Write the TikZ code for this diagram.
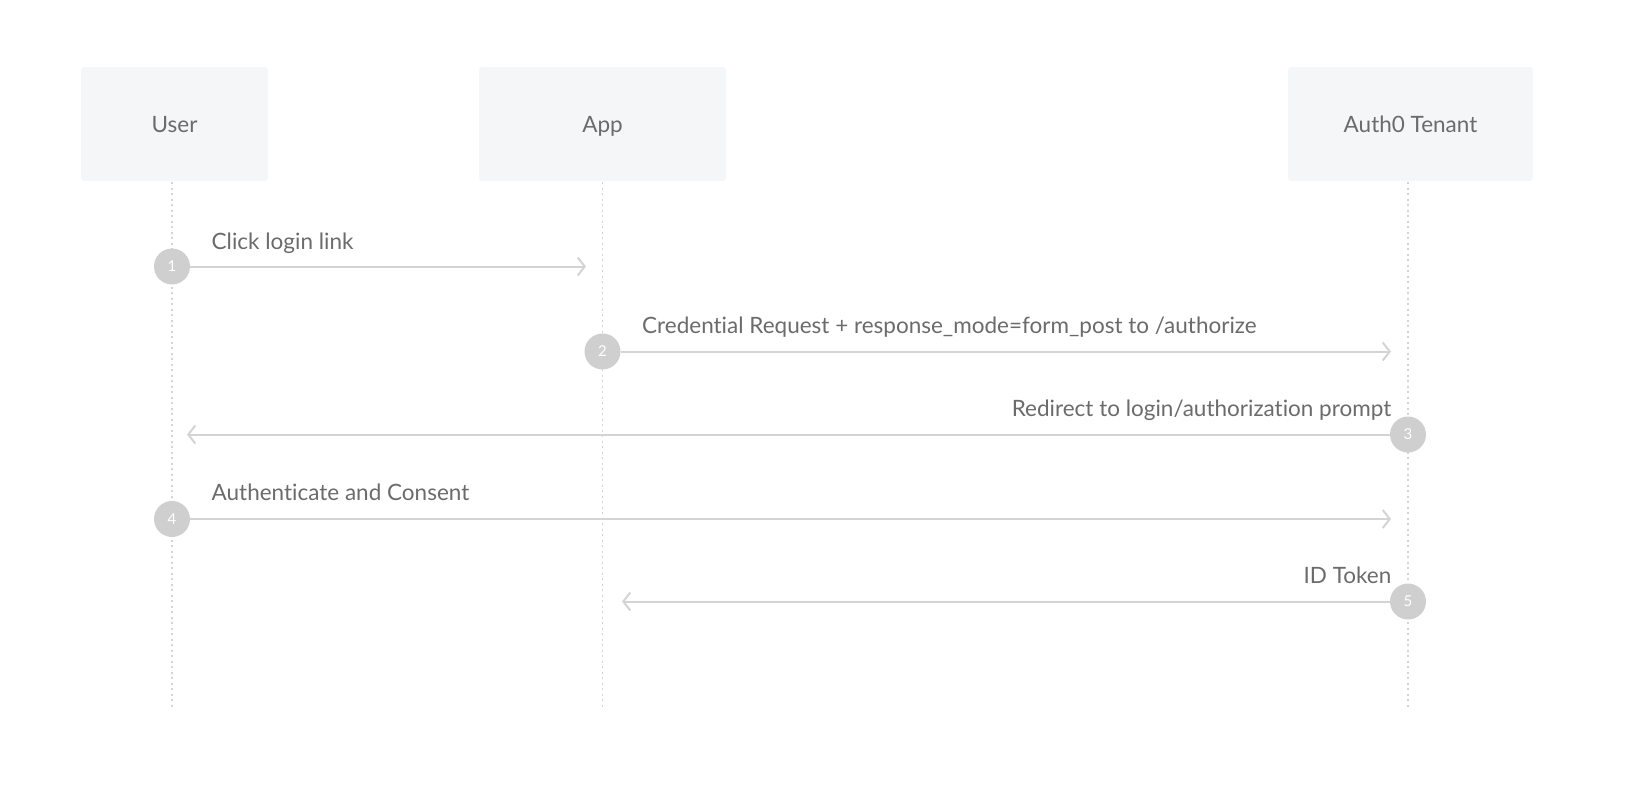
\documentclass[tikz,border=0pt]{standalone}
\usepackage{fontspec}
\setmainfont{Lato}[RawFeature={-liga;-dlig}]
\usetikzlibrary{arrows.meta}
\definecolor{txt}{HTML}{6B6B6B}
\definecolor{boxfill}{HTML}{F5F6F8}
\definecolor{ln}{HTML}{D4D4D4}
\definecolor{circ}{HTML}{CFCFCF}
\begin{document}
\begin{tikzpicture}[x=1pt,y=-1pt,
  actor/.style={fill=boxfill, rounded corners=3pt, minimum height=114pt, text=txt,
    font=\fontsize{22.5}{26}\selectfont, inner sep=0pt, text height=18pt, text depth=2pt},
  life/.style={draw=ln, line width=1.5pt, dash pattern=on 2pt off 3.5pt},
  stepnum/.style={circle, fill=circ, minimum size=36pt, inner sep=0pt, text=white,
    font=\fontsize{15}{17}\selectfont},
  msg/.style={draw=ln, line width=2pt, -{Straight Barb[length=7pt,width=18pt,line width=2pt]}},
  lbl/.style={text=txt, font=\fontsize{22.5}{26}\selectfont, inner sep=0pt}
]
\useasboundingbox (0,0) rectangle (1626,806);
% actors
\node[actor, minimum width=187pt] (user) at (174.5,124) {User};
\node[actor, minimum width=247pt] (app) at (602.5,124) {App};
\node[actor, minimum width=245pt] (auth) at (1410.5,124) {Auth0 Tenant};
% lifeline ends
\coordinate (ut) at (172,182);
\coordinate (ub) at (172,710);
\coordinate (at) at (602.5,182);
\coordinate (ab) at (602.5,710);
\coordinate (tt) at (1408,182);
\coordinate (tb) at (1408,710);
\draw[life] (ut) -- (ub);
\draw[life] (at) -- (ab);
\draw[life] (tt) -- (tb);
% steps
\node[stepnum] (s1) at (172,266.5) {1};
\node[stepnum] (s2) at (602.5,351.5) {2};
\node[stepnum] (s3) at (1408,434.5) {3};
\node[stepnum] (s4) at (172,519) {4};
\node[stepnum] (s5) at (1408,601.5) {5};
% arrow ends
\coordinate (e1) at (586,266.5);
\coordinate (e2) at (1391,351.5);
\coordinate (e3) at (187,434.5);
\coordinate (e4) at (1391,519);
\coordinate (e5) at (622,601.5);
\draw[msg] (s1) -- (e1);
\draw[msg] (s2) -- (e2);
\draw[msg] (s3) -- (e3);
\draw[msg] (s4) -- (e4);
\draw[msg] (s5) -- (e5);
% labels
\node[lbl, anchor=base west] (l1) at (211.5,249) {Click login link};
\node[lbl, anchor=base west] (l2) at (642,333) {Credential Request + response\_mode=form\_post to /authorize};
\node[lbl, anchor=base east] (l3) at (1391.5,416) {Redirect to login/authorization prompt};
\node[lbl, anchor=base west] (l4) at (211.5,500.5) {Authenticate and Consent};
\node[lbl, anchor=base east] (l5) at (1391.5,583) {ID Token};
\end{tikzpicture}
\end{document}
